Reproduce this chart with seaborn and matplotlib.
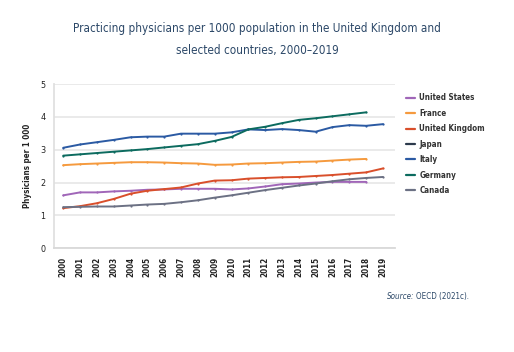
import numpy as np
import pandas as pd
import seaborn as sns
import matplotlib.pyplot as plt
from matplotlib.lines import Line2D

years = list(range(2000, 2020))
nan = np.nan

united_states = [1.61, 1.70, 1.70, 1.73, 1.75, 1.78, 1.79, 1.81, 1.81, 1.81,
                 1.79, 1.82, 1.88, 1.95, 1.97, 2.00, 2.02, 2.02, 2.02, nan]
france = [2.53, 2.56, 2.58, 2.60, 2.62, 2.62, 2.61, 2.59, 2.58, 2.54,
          2.55, 2.58, 2.59, 2.61, 2.63, 2.64, 2.67, 2.70, 2.72, nan]
united_kingdom = [1.22, 1.28, 1.37, 1.50, 1.66, 1.75, 1.80, 1.85, 1.97, 2.06,
                  2.07, 2.12, 2.14, 2.16, 2.17, 2.20, 2.23, 2.27, 2.31, 2.43]
japan = [nan] * 20
italy = [3.06, 3.16, 3.23, 3.30, 3.38, 3.40, 3.40, 3.49, 3.49, 3.49,
         3.53, 3.62, 3.60, 3.63, 3.60, 3.55, 3.69, 3.75, 3.73, 3.78]
germany = [2.82, 2.86, 2.90, 2.94, 2.98, 3.02, 3.07, 3.12, 3.17, 3.27,
           3.39, 3.62, 3.70, 3.81, 3.91, 3.96, 4.02, 4.08, 4.14, nan]
canada = [1.25, 1.26, 1.27, 1.27, 1.30, 1.33, 1.35, 1.40, 1.46, 1.54,
          1.61, 1.69, 1.77, 1.84, 1.91, 1.97, 2.04, 2.10, 2.14, 2.17]

countries = ['United States', 'France', 'United Kingdom', 'Japan', 'Italy', 'Germany', 'Canada']
series = [united_states, france, united_kingdom, japan, italy, germany, canada]
colors = ['#a066b8', '#f59a3e', '#d94f2b', '#2c3a4c', '#2b5aa3', '#0c6b5f', '#6c7184']

# long format for seaborn (Japan has no points in the chart, only a legend entry)
rows = []
for c, vals in zip(countries, series):
    for y, v in zip(years, vals):
        rows.append({'Year': y - 2000, 'Country': c, 'Value': v})
df = pd.DataFrame(rows).dropna()

sns.set_style('white')
plt.rcParams['font.family'] = ['DejaVu Sans']
plt.rcParams['font.stretch'] = 'condensed'

fig = plt.figure(figsize=(5.14, 3.52), dpi=100)
ax = fig.add_axes([0.105, 0.295, 0.663, 0.466])

sns.lineplot(data=df, x='Year', y='Value', hue='Country', hue_order=countries,
             palette=dict(zip(countries, colors)), linewidth=1.4,
             marker='o', markersize=1.6, markeredgewidth=0, legend=False, ax=ax)

ax.set_ylim(0, 5)
ax.set_xlim(-0.55, 19.7)
ax.set_yticks(range(6))
ax.set_xticks(range(20))
ax.set_xticklabels([str(y) for y in years], rotation=90, fontsize=5.8, fontweight='bold', color='#222222')
ax.tick_params(axis='y', labelsize=6.5, colors='#222222', length=0, pad=6)
ax.tick_params(axis='x', length=3, width=0.8, color='#d9d9d9', pad=3)
ax.yaxis.grid(True, color='#e8e8e8', linewidth=1.3)
ax.set_axisbelow(True)
for s in ['top', 'right']:
    ax.spines[s].set_visible(False)
ax.spines['left'].set_color('#e0e0e0')
ax.spines['left'].set_linewidth(1.3)
ax.spines['bottom'].set_color('#d9d9d9')
ax.spines['bottom'].set_linewidth(1.3)
ax.set_xlabel('')
ax.set_ylabel('Physicians per 1 000', fontsize=5.8, fontweight='bold', color='#222222', labelpad=6)

handles = [Line2D([0], [0], color=c, linewidth=1.6) for c in colors]
leg = fig.legend(handles, countries, loc='upper left', bbox_to_anchor=(0.775, 0.755),
                 frameon=False, handlelength=1.2, handletextpad=0.5,
                 labelspacing=0.8, prop={'weight': 'bold', 'size': 5.8})
for t in leg.get_texts():
    t.set_color('#333333')

fig.text(0.5, 0.92, 'Practicing physicians per 1000 population in the United Kingdom and',
         ha='center', va='center', fontsize=8.4, color='#2c4868')
fig.text(0.5, 0.857, 'selected countries, 2000\u20132019',
         ha='center', va='center', fontsize=8.4, color='#2c4868')

src = fig.text(0.752, 0.157, 'Source:', ha='left', va='center', fontsize=5.8,
               style='italic', color='#2c4868')
ax.annotate('OECD (2021c).', xy=(1, 0.5), xycoords=src, xytext=(1.5, 0),
            textcoords='offset points', ha='left', va='center',
            fontsize=5.8, color='#2c4868', annotation_clip=False)

fig.savefig('out.png', dpi=100)
